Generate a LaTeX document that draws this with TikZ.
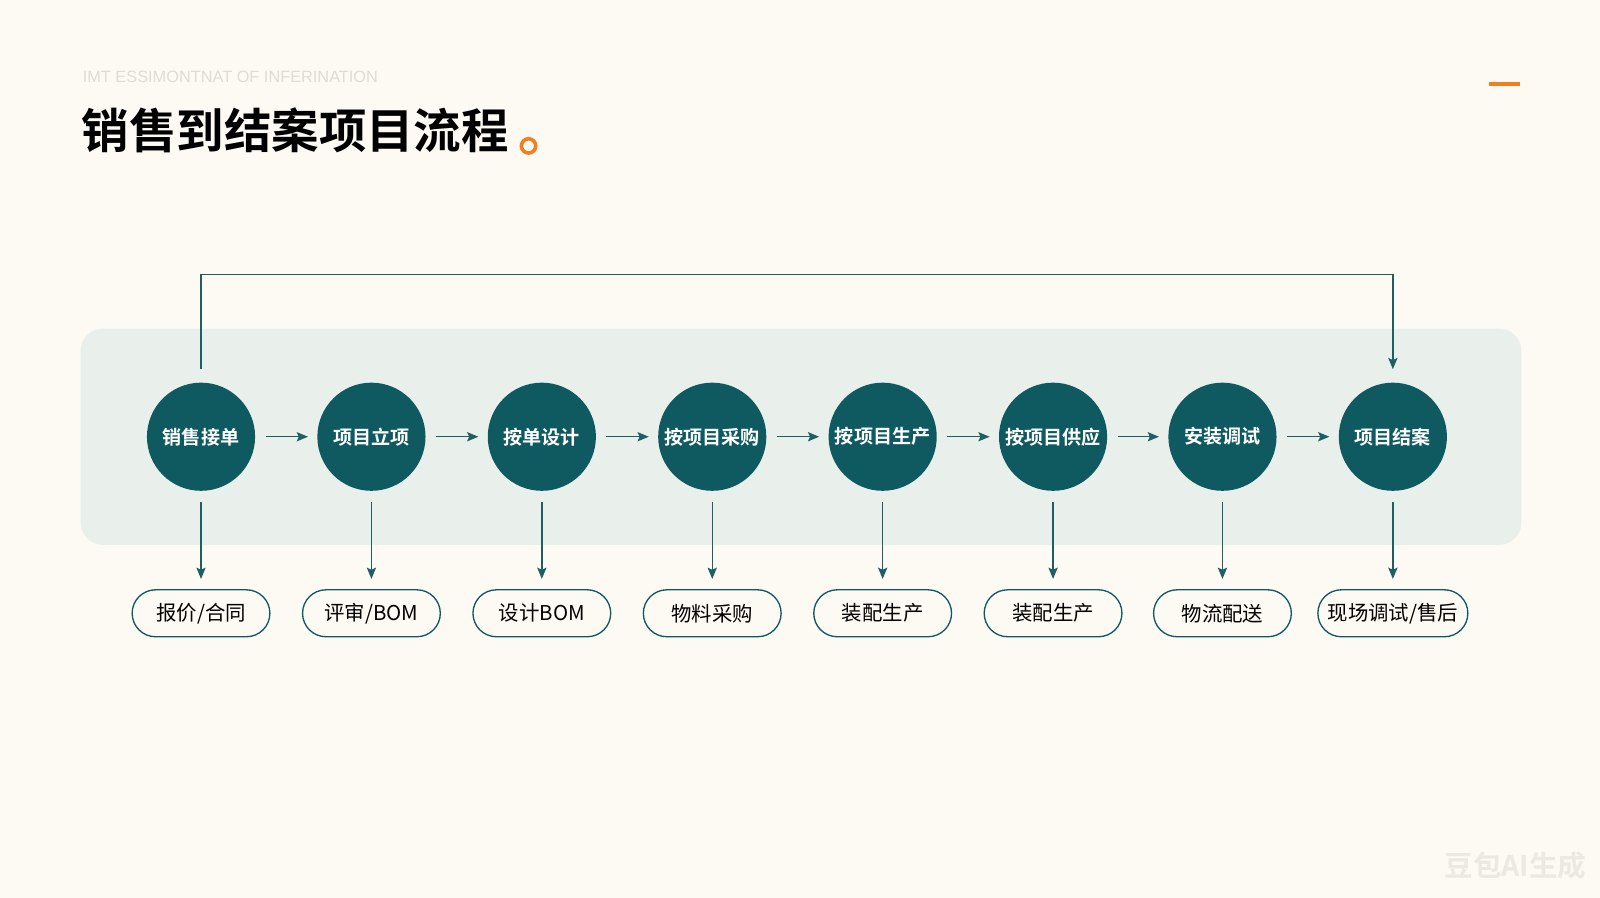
\documentclass[tikz,border=0pt]{standalone}
\usepackage{fontspec}
\setmainfont{Noto Sans CJK SC}[BoldFont={* Bold}]
\newfontfamily\latinfont{Liberation Sans}
\usetikzlibrary{positioning,arrows.meta}

\definecolor{paper}{HTML}{FCFAF2}
\definecolor{bandgreen}{HTML}{E9F0EB}
\definecolor{stageteal}{HTML}{0F5A60}
\definecolor{lineteal}{HTML}{1E5F63}
\definecolor{accent}{HTML}{F07F1E}
\definecolor{faint}{HTML}{E0DCD4}
\definecolor{mark}{HTML}{ECE9E1}

\tikzset{
    stage/.style={circle, fill=stageteal, text=white, inner sep=0pt,
        minimum size=106pt, font=\bfseries\fontsize{18.7}{18.7}\selectfont},
    output/.style={rounded corners=23pt, draw=stageteal, line width=1.3pt,
        fill=paper, inner sep=0pt, minimum height=46pt, minimum width=135pt,
        font=\fontsize{20}{20}\selectfont},
    flow/.style={draw=lineteal, line width=1.3pt,
        -{Stealth[length=11pt,width=9pt,inset=2pt]}}
}

\begin{document}
\begin{tikzpicture}[x=1pt,y=-1pt]
    % page and band
    \fill[paper] (0,0) rectangle (1568,880);
    \useasboundingbox (0,0) rectangle (1568,880);
    \fill[bandgreen, rounded corners=22pt] (79,322) rectangle (1491,534);

    % heading
    \node[anchor=west, inner sep=0pt, text=faint, font=\latinfont\fontsize{16}{16}\selectfont]
        (subtitle) at (81,75) {IMT ESSIMONTNAT OF INFERINATION};
    \node[anchor=west, inner sep=0pt, font=\bfseries\fontsize{46.5}{46.5}\selectfont]
        (title) at (80,128) {销售到结案项目流程};
    \draw[accent, line width=3.5pt] (518,143) circle (7);
    \draw[accent, line width=4pt] (1459,82) -- (1490,82);

    % main stages
    \node[stage] (s1) at (197,428) {销售接单};
    \node[stage] (s2) at (364,428) {项目立项};
    \node[stage] (s3) at (531,428) {按单设计};
    \node[stage] (s4) at (698,428) {按项目采购};
    \node[stage] (s5) at (865,428) {按项目生产};
    \node[stage] (s6) at (1032,428) {按项目供应};
    \node[stage] (s7) at (1198,428) {安装调试};
    \node[stage] (s8) at (1365,428) {项目结案};

    % outputs
    \node[output] (o1) at (197,601) {报价/合同};
    \node[output] (o2) at (364,601) {评审/BOM};
    \node[output] (o3) at (531,601) {设计BOM};
    \node[output] (o4) at (698,601) {物料采购};
    \node[output] (o5) at (865,601) {装配生产};
    \node[output] (o6) at (1032,601) {装配生产};
    \node[output] (o7) at (1198,601) {物流配送};
    \node[output, minimum width=147pt] (o8) at (1365,601) {现场调试/售后};

    % stage to stage
    \draw[flow] ([xshift=10pt]s1.east) -- ([xshift=-9pt]s2.west);
    \draw[flow] ([xshift=10pt]s2.east) -- ([xshift=-9pt]s3.west);
    \draw[flow] ([xshift=10pt]s3.east) -- ([xshift=-9pt]s4.west);
    \draw[flow] ([xshift=10pt]s4.east) -- ([xshift=-9pt]s5.west);
    \draw[flow] ([xshift=10pt]s5.east) -- ([xshift=-9pt]s6.west);
    \draw[flow] ([xshift=10pt]s6.east) -- ([xshift=-9pt]s7.west);
    \draw[flow] ([xshift=10pt]s7.east) -- ([xshift=-9pt]s8.west);

    % stage to output
    \draw[flow] ([yshift=-11pt]s1.south) -- ([yshift=10pt]o1.north);
    \draw[flow] ([yshift=-11pt]s2.south) -- ([yshift=10pt]o2.north);
    \draw[flow] ([yshift=-11pt]s3.south) -- ([yshift=10pt]o3.north);
    \draw[flow] ([yshift=-11pt]s4.south) -- ([yshift=10pt]o4.north);
    \draw[flow] ([yshift=-11pt]s5.south) -- ([yshift=10pt]o5.north);
    \draw[flow] ([yshift=-11pt]s6.south) -- ([yshift=10pt]o6.north);
    \draw[flow] ([yshift=-11pt]s7.south) -- ([yshift=10pt]o7.north);
    \draw[flow] ([yshift=-11pt]s8.south) -- ([yshift=10pt]o8.north);

    % loop over the top
    \coordinate (loop) at (197,269);
    \draw[flow] ([yshift=13pt]s1.north) -- (loop) -| ([yshift=13pt]s8.north);

    % watermark
    \node[anchor=east, inner sep=0pt, text=mark, font=\bfseries\fontsize{28}{28}\selectfont]
        (watermark) at (1555,848) {豆包AI生成};
\end{tikzpicture}
\end{document}
